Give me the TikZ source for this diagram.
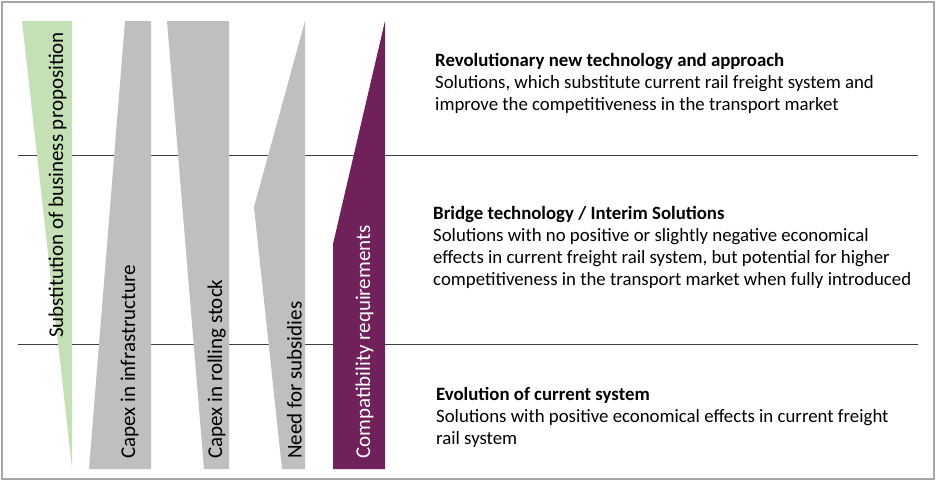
\documentclass[tikz,border=0pt]{standalone}
\usepackage{fontspec}
\setmainfont{Carlito}
\definecolor{bargray}{HTML}{BFBFBF}
\definecolor{bargreen}{HTML}{C5E0B4}
\definecolor{barplum}{HTML}{70215A}
\definecolor{rulegray}{HTML}{404040}
\definecolor{framegray}{HTML}{A6A6A6}
\tikzset{
  bartext/.style={rotate=90,anchor=base west,inner sep=0pt,font=\fontsize{21}{25}\selectfont},
  levtext/.style={anchor=base west,align=left,inner sep=0pt,font=\fontsize{18.8}{22}\selectfont}
}
\begin{document}
\begin{tikzpicture}[x=1pt,y=-1pt]
\useasboundingbox (0,0) rectangle (936,482);
\draw[framegray,line width=1.2pt] (2,2) rectangle (934,479);
% level separators
\foreach \n/\y in {1/155,2/344} {\coordinate (sep\n w) at (18,\y); \coordinate (sep\n e) at (918,\y); \draw[rulegray,line width=0.8pt] (sep\n w) -- (sep\n e);}
% bars
\fill[bargreen] (22,21) -- (72,21) -- (72,468) -- cycle;
\fill[bargray] (125,21) -- (151,21) -- (151,469) -- (89,469) -- cycle;
\fill[bargray] (167,21) -- (229,21) -- (229,469) -- (204,469) -- cycle;
\fill[bargray] (305,21) -- (305,469) -- (282,469) -- (254,207) -- cycle;
\fill[barplum] (385,21) -- (385,469) -- (333,469) -- (333,244) -- cycle;
\node[bartext] (subst) at (63,338) {Substitution of business proposition};
\node[bartext] (infra) at (135,459) {Capex in infrastructure};
\node[bartext] (stock) at (222,459) {Capex in rolling stock};
\node[bartext] (subsid) at (301.5,459) {Need for subsidies};
\node[bartext,text=white] (compat) at (370,459) {Compatibility requirements};
% levels (base = last line)
\node[levtext] (revol) at (435,110) {\textbf{Revolutionary new technology and approach}\\Solutions, which substitute current rail freight system and\\improve the competitiveness in the transport market};
\node[levtext] (bridge) at (433,285) {\textbf{Bridge technology / Interim Solutions}\\Solutions with no positive or slightly negative economical\\effects in current freight rail system, but potential for higher\\competitiveness in the transport market when fully introduced};
\node[levtext] (evol) at (436,444) {\textbf{Evolution of current system}\\Solutions with positive economical effects in current freight\\rail system};
\end{tikzpicture}
\end{document}
